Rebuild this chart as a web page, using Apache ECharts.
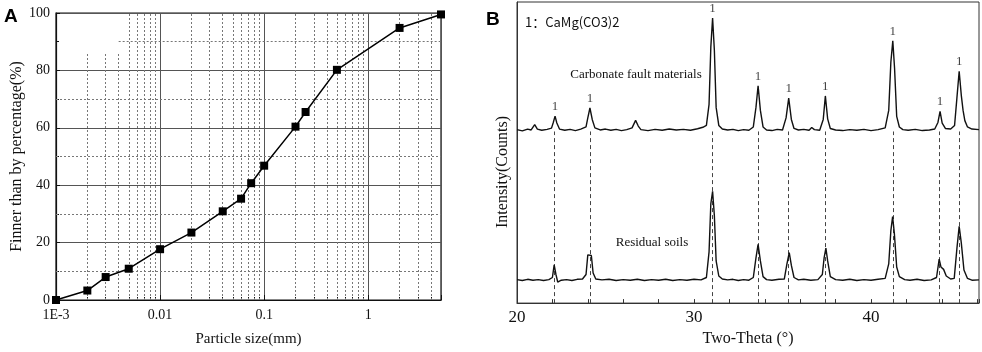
<!DOCTYPE html>
<html>
<head>
<meta charset="utf-8">
<script src="https://cdn.jsdelivr.net/npm/echarts@6/dist/echarts.min.js"></script>
<style>
  html, body { margin: 0; padding: 0; background: #fff; }
  #chart { width: 982px; height: 352px; }
</style>
</head>
<body>
<div id="chart"></div>
<script>
// panel A: grain size distribution
const sizeMm = [0.001, 0.002, 0.003, 0.005, 0.01, 0.02, 0.04, 0.06, 0.075, 0.1, 0.2, 0.25, 0.5, 2, 5];
const finerPct = [0, 3.3, 8, 10.9, 17.7, 23.5, 30.9, 35.3, 40.7, 46.8, 60.4, 65.5, 80.2, 94.8, 99.5];
const minorSizes = [0.002, 0.003, 0.004, 0.005, 0.006, 0.007, 0.008, 0.009,
  0.02, 0.03, 0.04, 0.05, 0.06, 0.07, 0.08, 0.09,
  0.2, 0.3, 0.4, 0.5, 0.6, 0.7, 0.8, 0.9, 2, 3, 4];
const minorPct = [10, 30, 50, 70, 90];

// panel B: XRD patterns, [2theta, counts]
const faultTrace = [
  [20.0, 576], [20.3, 572], [20.6, 578], [20.8, 575], [21.0, 593], [21.15, 578], [21.4, 574],
  [21.7, 577], [21.95, 581], [22.05, 600], [22.15, 621], [22.25, 598], [22.4, 578], [22.7, 574],
  [23.0, 577], [23.3, 573], [23.6, 578], [23.9, 585], [24.0, 615], [24.12, 648], [24.25, 610],
  [24.4, 582], [24.7, 575], [25.0, 578], [25.3, 574], [25.6, 577], [25.9, 573], [26.2, 576],
  [26.5, 582], [26.7, 607], [26.85, 588], [27.0, 576], [27.4, 573], [27.8, 577], [28.2, 574],
  [28.6, 578], [29.0, 575], [29.4, 577], [29.8, 574], [30.2, 579], [30.5, 584], [30.7, 590],
  [30.85, 660], [30.95, 850], [31.05, 947], [31.15, 840], [31.25, 650], [31.4, 590], [31.6, 578],
  [31.9, 575], [32.2, 577], [32.5, 573], [32.8, 576], [33.1, 574], [33.35, 585], [33.5, 650],
  [33.62, 722], [33.75, 640], [33.9, 585], [34.1, 575], [34.4, 573], [34.7, 577], [35.0, 575],
  [35.2, 615], [35.35, 681], [35.5, 610], [35.65, 580], [35.9, 575], [36.2, 577], [36.5, 574],
  [36.65, 583], [36.8, 576], [37.1, 574], [37.3, 610], [37.42, 688], [37.55, 612], [37.7, 580],
  [38.0, 575], [38.4, 573], [38.8, 576], [39.2, 574], [39.6, 577], [40.0, 573], [40.4, 576],
  [40.8, 582], [41.0, 640], [41.12, 800], [41.23, 871], [41.33, 780], [41.45, 620], [41.6, 585],
  [41.8, 576], [42.1, 574], [42.5, 577], [42.9, 573], [43.3, 575], [43.6, 578], [43.78, 600],
  [43.9, 637], [44.02, 598], [44.2, 580], [44.5, 578], [44.72, 590], [44.85, 680], [44.98, 770],
  [45.1, 690], [45.2, 640], [45.3, 606], [45.45, 585], [45.7, 578], [46.1, 576]
];
const soilTrace = [
  [20.0, 78], [20.3, 75], [20.6, 79], [20.9, 76], [21.2, 78], [21.5, 75], [21.8, 78], [22.0, 85],
  [22.1, 127], [22.2, 95], [22.3, 70], [22.5, 76], [22.8, 78], [23.1, 75], [23.4, 79], [23.7, 80],
  [23.9, 95], [24.0, 160], [24.1, 165], [24.2, 158], [24.3, 100], [24.45, 80], [24.8, 77],
  [25.2, 79], [25.6, 75], [26.0, 78], [26.4, 76], [26.8, 79], [27.2, 75], [27.6, 78], [28.0, 76],
  [28.4, 79], [28.8, 75], [29.2, 78], [29.6, 76], [30.0, 79], [30.4, 77], [30.7, 85], [30.85, 170],
  [30.95, 330], [31.05, 371], [31.15, 290], [31.25, 140], [31.4, 90], [31.6, 80], [31.9, 77],
  [32.2, 79], [32.5, 75], [32.8, 78], [33.1, 76], [33.35, 85], [33.5, 150], [33.62, 195],
  [33.75, 140], [33.9, 88], [34.1, 78], [34.4, 76], [34.8, 79], [35.1, 80], [35.25, 130],
  [35.38, 168], [35.5, 125], [35.65, 85], [35.9, 77], [36.2, 79], [36.6, 76], [37.0, 78],
  [37.25, 95], [37.35, 150], [37.45, 183], [37.55, 140], [37.7, 88], [38.0, 78], [38.4, 76],
  [38.8, 79], [39.2, 75], [39.6, 78], [40.0, 76], [40.4, 79], [40.8, 82], [41.0, 130],
  [41.12, 240], [41.22, 287], [41.32, 230], [41.45, 120], [41.6, 88], [41.9, 78], [42.2, 76],
  [42.6, 79], [43.0, 75], [43.4, 77], [43.7, 85], [43.85, 146], [43.95, 120], [44.1, 112],
  [44.25, 90], [44.5, 80], [44.7, 82], [44.85, 180], [44.98, 255], [45.1, 200], [45.25, 110],
  [45.45, 82], [45.7, 76], [46.1, 77]
];
const dolomitePeaks = [22.1, 24.15, 31.05, 33.62, 35.35, 37.42, 41.23, 43.88, 44.98];
const peakTops = [[22.15, 621], [24.12, 648], [31.05, 947], [33.62, 722], [35.35, 681],
  [37.42, 688], [41.23, 871], [43.9, 637], [44.98, 770]];

const serif = '"Liberation Serif", "DejaVu Serif", serif';
const ink = '#111';

const myChart = echarts.init(document.getElementById('chart'));

// dotted minor grid of panel A (the three leftmost stop short of the top, as in the figure)
const minorLinesA = minorSizes.map(function (s) {
  const top = s < 0.0045 ? 86 : 100;
  return [{ coord: [s, 0] }, { coord: [s, top] }];
}).concat(minorPct.map(function (p) {
  const left = p === 90 ? 0.004 : 0.001;
  return [{ coord: [left, p] }, { coord: [5, p] }];
}));

const option = {
  backgroundColor: '#fff',
  animation: false,
  grid: [
    { left: 56, top: 13, width: 385, height: 287, show: true, borderColor: ink, borderWidth: 1.2 },
    { left: 517, top: 2, width: 462, height: 307, show: true, borderColor: '#333', borderWidth: 1 }
  ],
  xAxis: [
    {
      gridIndex: 0, type: 'log', min: 0.001, max: 5, logBase: 10,
      name: 'Particle size(mm)', nameLocation: 'middle', nameGap: 32,
      nameTextStyle: { fontFamily: serif, fontSize: 15, color: ink },
      axisLine: { lineStyle: { color: ink, width: 1.2 } },
      axisTick: { inside: true, length: 5, lineStyle: { color: ink } },
      minorTick: { show: true, splitNumber: 9, length: 3, lineStyle: { color: ink } },
      axisLabel: {
        fontFamily: serif, fontSize: 14, color: ink, margin: 8,
        formatter: function (v) {
          if (Math.abs(v - 0.001) < 1e-9) return '1E-3';
          if (Math.abs(v - 0.01) < 1e-9) return '0.01';
          if (Math.abs(v - 0.1) < 1e-9) return '0.1';
          if (Math.abs(v - 1) < 1e-9) return '1';
          return '';
        }
      },
      splitLine: { show: true, lineStyle: { color: '#555', width: 1 } }
    },
    {
      gridIndex: 1, type: 'value', min: 20, max: 46.1, interval: 2,
      name: 'Two-Theta (°)', nameLocation: 'middle', nameGap: 27,
      nameTextStyle: { fontFamily: serif, fontSize: 16, color: ink },
      axisLine: { lineStyle: { color: '#333', width: 1 } },
      axisTick: { inside: true, length: 4, lineStyle: { color: '#333' } },
      axisLabel: {
        fontFamily: serif, fontSize: 17, color: ink, margin: 6,
        formatter: function (v) { return v % 10 === 0 ? String(v) : ''; }
      },
      splitLine: { show: false }
    }
  ],
  yAxis: [
    {
      gridIndex: 0, type: 'value', min: 0, max: 100, interval: 20,
      name: 'Finner than by percentage(%)', nameLocation: 'middle', nameGap: 29,
      nameTextStyle: { fontFamily: serif, fontSize: 16, color: ink },
      axisLine: { show: true, lineStyle: { color: ink, width: 1.2 } },
      axisTick: { inside: true, length: 4, lineStyle: { color: ink } },
      minorTick: { show: true, splitNumber: 2, length: 3, lineStyle: { color: ink } },
      axisLabel: { fontFamily: serif, fontSize: 14, color: ink, margin: 6 },
      splitLine: { show: true, lineStyle: { color: '#555', width: 1 } }
    },
    {
      gridIndex: 1, type: 'value', min: 0, max: 1000,
      axisLine: { show: true, lineStyle: { color: '#333', width: 1 } },
      axisTick: { show: false },
      axisLabel: { show: false },
      splitLine: { show: false }
    }
  ],
  graphic: [
    { type: 'text', left: 4, top: 7, style: { text: 'A', font: 'bold 19px "Liberation Sans", Arial, sans-serif', fill: '#000' } },
    { type: 'text', left: 486, top: 10, style: { text: 'B', font: 'bold 19px "Liberation Sans", Arial, sans-serif', fill: '#000' } },
    { type: 'text', x: 525, y: 22, style: { text: '1：CaMg(CO3)2', font: '13px "Noto Sans CJK SC", "Noto Sans", sans-serif', fill: ink, textVerticalAlign: 'middle' } },
    { type: 'text', x: 636, y: 75, style: { text: 'Carbonate fault materials', font: '13px ' + serif, fill: ink, textAlign: 'center', textVerticalAlign: 'middle' } },
    { type: 'text', x: 652, y: 243, style: { text: 'Residual soils', font: '13px ' + serif, fill: ink, textAlign: 'center', textVerticalAlign: 'middle' } },
    { type: 'text', x: 503, y: 172, rotation: Math.PI / 2, style: { text: 'Intensity(Counts)', font: '16px ' + serif, fill: ink, textAlign: 'center', textVerticalAlign: 'middle' } }
  ],
  series: [
    {
      name: 'finer', type: 'line', xAxisIndex: 0, yAxisIndex: 0,
      data: sizeMm.map(function (s, i) { return [s, finerPct[i]]; }),
      symbol: 'rect', symbolSize: 8, showSymbol: true,
      lineStyle: { color: '#000', width: 1.5 },
      itemStyle: { color: '#000' },
      markLine: {
        silent: true, symbol: 'none', label: { show: false },
        lineStyle: { color: '#777', type: [2, 2], width: 1 },
        data: minorLinesA
      },
      z: 5
    },
    {
      name: 'Carbonate fault materials', type: 'line', xAxisIndex: 1, yAxisIndex: 1,
      data: faultTrace, showSymbol: false,
      lineStyle: { color: ink, width: 1.4 }, z: 5
    },
    {
      name: 'Residual soils', type: 'line', xAxisIndex: 1, yAxisIndex: 1,
      data: soilTrace, showSymbol: false,
      lineStyle: { color: ink, width: 1.4 }, z: 5,
      markLine: {
        silent: true, symbol: 'none', label: { show: false },
        lineStyle: { color: '#444', type: [4, 3], width: 1 },
        data: dolomitePeaks.map(function (t) { return [{ coord: [t, 0] }, { coord: [t, 570] }]; })
      }
    },
    {
      name: 'peak labels', type: 'scatter', xAxisIndex: 1, yAxisIndex: 1,
      data: peakTops, symbolSize: 0, silent: true,
      label: {
        show: true, position: 'top', distance: 3, formatter: '1',
        fontFamily: serif, fontSize: 13, color: ink
      }
    }
  ]
};

myChart.setOption(option);
</script>
</body>
</html>
